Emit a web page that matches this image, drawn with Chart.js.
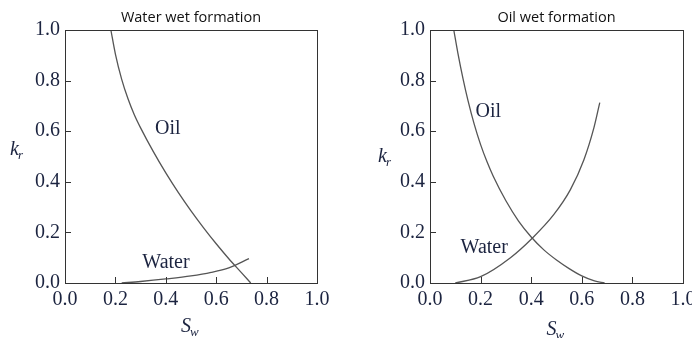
<!DOCTYPE html>
<html><head><meta charset="utf-8">
<script src="https://cdn.jsdelivr.net/npm/chart.js@4/dist/chart.umd.min.js"></script>
<style>
html,body{margin:0;padding:0;background:#fff;}
#wrap{position:relative;width:692px;height:338px;overflow:hidden;background:#fff;}
.c{position:absolute;top:0;width:346px;height:338px;}
</style></head><body>
<div id="wrap">
<div class="c" style="left:0px"><canvas id="c1" width="346" height="338"></canvas></div>
<div class="c" style="left:346px"><canvas id="c2" width="346" height="338"></canvas></div>
</div>
<script>
// ---------- data ----------
const tickValues = [0, 0.2, 0.4, 0.6, 0.8, 1.0];
const tickLabels = ['0.0', '0.2', '0.4', '0.6', '0.8', '1.0'];

// Water wet formation
const wwOilSw   = [0.182, 0.200, 0.225, 0.250, 0.275, 0.300, 0.350, 0.400, 0.450, 0.500, 0.550, 0.600, 0.650, 0.700, 0.737];
const wwOilKr   = [1.000, 0.905, 0.805, 0.728, 0.665, 0.613, 0.520, 0.435, 0.357, 0.285, 0.218, 0.155, 0.096, 0.041, 0.000];
const wwWaterSw = [0.225, 0.300, 0.400, 0.500, 0.580, 0.650, 0.730];
const wwWaterKr = [0.000, 0.006, 0.016, 0.028, 0.042, 0.060, 0.096];

// Oil wet formation
const owOilSw   = [0.094, 0.110, 0.130, 0.150, 0.175, 0.200, 0.225, 0.250, 0.300, 0.350, 0.400, 0.450, 0.500, 0.550, 0.600, 0.650, 0.690];
const owOilKr   = [1.000, 0.910, 0.810, 0.722, 0.627, 0.547, 0.480, 0.422, 0.325, 0.245, 0.182, 0.131, 0.091, 0.057, 0.028, 0.008, 0.000];
const owWaterSw = [0.100, 0.200, 0.318, 0.404, 0.489, 0.555, 0.608, 0.648, 0.671];
const owWaterKr = [0.000, 0.025, 0.100, 0.177, 0.270, 0.369, 0.486, 0.614, 0.713];

// Curve labels (placed in data units: left edge Sw, middle kr)
const wwLabels = [{text:'Oil', sw:0.357, kr:0.609}, {text:'Water', sw:0.307, kr:0.081}];
const owLabels = [{text:'Oil', sw:0.180, kr:0.676}, {text:'Water', sw:0.121, kr:0.138}];

const titles = ['Water wet formation', 'Oil wet formation'];

// ---------- helpers ----------
const INK = '#1c2440';
const LINE = '#555555';
const SERIF = '"Liberation Serif", "DejaVu Serif", serif';

function pts(xs, ys){ return xs.map((x,i)=>({x:x, y:ys[i]})); }

const deco = {
  id: 'deco',
  afterDraw(chart, args, o) {
    const ctx = chart.ctx, a = chart.chartArea;
    const xs = chart.scales.x, ys = chart.scales.y;
    ctx.save();
    // plot frame
    ctx.strokeStyle = '#333333';
    ctx.lineWidth = 1;
    ctx.strokeRect(Math.round(a.left)+0.5, Math.round(a.top)+0.5,
                   Math.round(a.right-a.left), Math.round(a.bottom-a.top));
    // inner ticks
    ctx.beginPath();
    tickValues.forEach(v => {
      if (v <= 0 || v >= 1) return;
      const px = Math.round(xs.getPixelForValue(v)) + 0.5;
      ctx.moveTo(px, a.bottom); ctx.lineTo(px, a.bottom - 6);
      const py = Math.round(ys.getPixelForValue(v)) + 0.5;
      ctx.moveTo(a.left, py); ctx.lineTo(a.left + 6, py);
    });
    ctx.stroke();
    // curve labels
    ctx.fillStyle = INK;
    ctx.font = '20px ' + SERIF;
    ctx.textAlign = 'left';
    ctx.textBaseline = 'middle';
    o.labels.forEach(l => {
      ctx.fillText(l.text, xs.getPixelForValue(l.sw), ys.getPixelForValue(l.kr));
    });
    // chart title
    ctx.font = '14.5px "Open Sans", sans-serif';
    ctx.fillStyle = '#111111';
    ctx.textAlign = 'center';
    ctx.fillText(o.title, (a.left + a.right)/2, 18);
    // axis titles with subscripts
    ctx.textAlign = 'left';
    ctx.textBaseline = 'alphabetic';
    ctx.fillStyle = INK;
    function sub(main, s, x, y) {
      ctx.font = 'italic 20px ' + SERIF;
      ctx.fillText(main, x, y);
      const w = ctx.measureText(main).width;
      ctx.font = 'italic 13px ' + SERIF;
      ctx.fillText(s, x + w - 1, y + 4);
    }
    sub('k', 'r', a.left - o.kOff, o.kY);
    sub('S', 'w', (a.left + a.right)/2 - 10 + o.sDx, o.sY);
    ctx.restore();
  }
};

function makeChart(id, oilPts, waterPts, yWidth, padRight, opts) {
  return new Chart(document.getElementById(id), {
    type: 'scatter',
    data: {
      datasets: [
        {label:'Oil', data: oilPts},
        {label:'Water', data: waterPts}
      ]
    },
    options: {
      responsive: false,
      animation: false,
      devicePixelRatio: 1,
      layout: {padding: {left: 0, right: padRight, top: 30, bottom: 0}},
      elements: {
        point: {radius: 0, hoverRadius: 0},
        line: {borderColor: LINE, borderWidth: 1.3, fill: false}
      },
      datasets: {scatter: {showLine: true, cubicInterpolationMode: 'monotone', borderColor: LINE, clip: 2}},
      plugins: {
        legend: {display: false},
        tooltip: {enabled: false},
        deco: opts
      },
      scales: {
        x: {
          type: 'linear', min: 0, max: 1,
          grid: {display: false, drawTicks: false},
          border: {display: false},
          ticks: {
            stepSize: 0.2, padding: 5, color: INK,
            font: {family: SERIF, size: 20},
            maxRotation: 0, autoSkip: false,
            callback: v => tickLabels[Math.round(v*5)]
          },
          afterFit: s => { s.height = 55; s.paddingLeft = 0; s.paddingRight = 0; }
        },
        y: {
          type: 'linear', min: 0, max: 1,
          grid: {display: false, drawTicks: false},
          border: {display: false},
          ticks: {
            stepSize: 0.2, padding: 5, color: INK,
            font: {family: SERIF, size: 20},
            callback: v => tickLabels[Math.round(v*5)]
          },
          afterFit: s => { s.width = yWidth; s.paddingTop = 0; s.paddingBottom = 0; }
        }
      }
    },
    plugins: [deco]
  });
}

makeChart('c1', pts(wwOilSw, wwOilKr), pts(wwWaterSw, wwWaterKr), 65, 29,
  {labels: wwLabels, title: titles[0], kOff: 55, kY: 155, sDx: 0, sY: 332});
makeChart('c2', pts(owOilSw, owOilKr), pts(owWaterSw, owWaterKr), 84, 9,
  {labels: owLabels, title: titles[1], kOff: 52, kY: 162, sDx: 0, sY: 335});
</script>
</body></html>
